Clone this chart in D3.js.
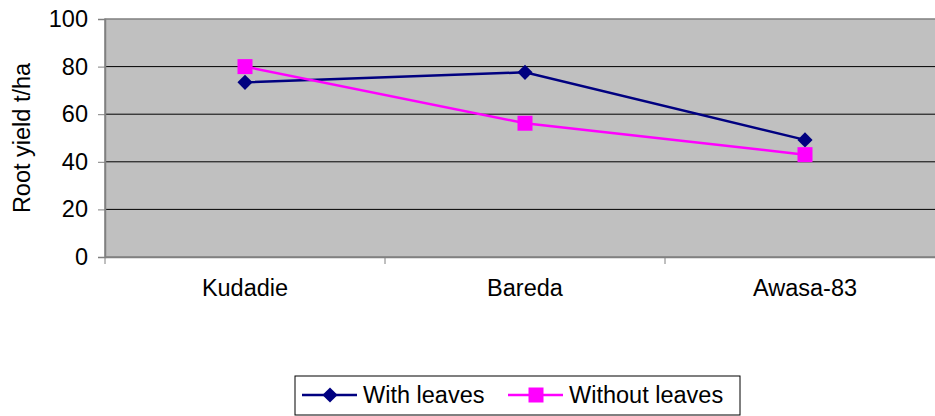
<!DOCTYPE html>
<html>
<head>
<meta charset="utf-8">
<script src="https://cdn.jsdelivr.net/npm/d3@7"></script>
<style>
  body { margin: 0; background: #fff; }
  text { font-family: "Liberation Sans", Arial, sans-serif; }
</style>
</head>
<body>
<div id="chart"></div>
<script>
var categories = ["Kudadie", "Bareda", "Awasa-83"];
var withLeaves = [73.4, 77.6, 49.2];
var withoutLeaves = [80.0, 56.2, 43.0];
var yTicks = [0, 20, 40, 60, 80, 100];

var width = 935, height = 416;
var margin = { top: 19, left: 105, bottom: 257, right: 945 };
var fontSize = 23.5;

var svg = d3.select("#chart").append("svg")
    .attr("width", width)
    .attr("height", height);

var x = d3.scaleBand()
    .domain(categories)
    .range([margin.left, margin.right]);

var y = d3.scaleLinear()
    .domain([0, 100])
    .range([margin.bottom, margin.top]);

// plot area
svg.append("rect")
    .attr("x", margin.left)
    .attr("y", margin.top)
    .attr("width", margin.right - margin.left)
    .attr("height", margin.bottom - margin.top)
    .attr("fill", "#c0c0c0")
    .attr("stroke", "#808080")
    .attr("stroke-width", 1.5);

// gridlines
svg.append("g").selectAll("line")
    .data(yTicks.filter(function (d) { return d > 0 && d < 100; }))
    .enter().append("line")
    .attr("x1", margin.left)
    .attr("x2", margin.right)
    .attr("y1", function (d) { return y(d); })
    .attr("y2", function (d) { return y(d); })
    .attr("stroke", "#000")
    .attr("stroke-width", 1);

// y axis
var yAxis = svg.append("g")
    .attr("transform", "translate(" + margin.left + ",0)")
    .call(d3.axisLeft(y).tickValues(yTicks).tickSize(7).tickPadding(10));
yAxis.select(".domain").attr("stroke", "#808080").attr("stroke-width", 1.5);
yAxis.selectAll(".tick line").attr("stroke", "#808080");
yAxis.selectAll(".tick text")
    .attr("font-size", fontSize)
    .attr("fill", "#000")
    .attr("font-family", "Liberation Sans, Arial, sans-serif");

// x axis
var xAxis = svg.append("g")
    .attr("transform", "translate(0," + margin.bottom + ")")
    .call(d3.axisBottom(x).tickSize(0).tickPadding(22));
xAxis.select(".domain").attr("stroke", "#808080").attr("stroke-width", 1.5);
xAxis.selectAll(".tick text")
    .attr("font-size", fontSize)
    .attr("fill", "#000")
    .attr("font-family", "Liberation Sans, Arial, sans-serif");

// category boundary ticks
svg.append("g").selectAll("line")
    .data(categories)
    .enter().append("line")
    .attr("x1", function (d) { return x(d); })
    .attr("x2", function (d) { return x(d); })
    .attr("y1", margin.bottom)
    .attr("y2", margin.bottom + 7)
    .attr("stroke", "#808080")
    .attr("stroke-width", 1);

// y title
svg.append("text")
    .attr("transform", "translate(30," + ((margin.top + margin.bottom) / 2) + ")rotate(-90)")
    .attr("text-anchor", "middle")
    .attr("font-size", fontSize)
    .text("Root yield t/ha");

var cx = function (d, i) { return x(categories[i]) + x.bandwidth() / 2; };

var series = [
    { name: "With leaves", values: withLeaves, color: "#000080", size: 115, rot: 45 },
    { name: "Without leaves", values: withoutLeaves, color: "#ff00ff", size: 225, rot: 0 }
];

var line = d3.line()
    .x(cx)
    .y(function (d) { return y(d); });

series.forEach(function (s) {
    svg.append("path")
        .datum(s.values)
        .attr("d", line)
        .attr("fill", "none")
        .attr("stroke", s.color)
        .attr("stroke-width", 2.5);
});

series.forEach(function (s) {
    svg.append("g").selectAll("path")
        .data(s.values)
        .enter().append("path")
        .attr("transform", function (d, i) { return "translate(" + cx(d, i) + "," + y(d) + ")rotate(" + s.rot + ")"; })
        .attr("d", d3.symbol().type(d3.symbolSquare).size(s.size))
        .attr("fill", s.color);
});

// legend
var legend = svg.append("g").attr("transform", "translate(295,376)");
legend.append("rect")
    .attr("width", 445)
    .attr("height", 39)
    .attr("fill", "#fff")
    .attr("stroke", "#000")
    .attr("stroke-width", 1);

var legendX = [7, 213];
series.forEach(function (s, i) {
    var g = legend.append("g").attr("transform", "translate(" + legendX[i] + ",19)");
    g.append("line")
        .attr("x1", 0).attr("x2", 55)
        .attr("stroke", s.color)
        .attr("stroke-width", 2.5);
    g.append("path")
        .attr("transform", "translate(28,0)rotate(" + s.rot + ")")
        .attr("d", d3.symbol().type(d3.symbolSquare).size(s.size))
        .attr("fill", s.color);
    g.append("text")
        .attr("x", 61)
        .attr("dy", "0.35em")
        .attr("font-size", fontSize)
        .text(s.name);
});
</script>
</body>
</html>
